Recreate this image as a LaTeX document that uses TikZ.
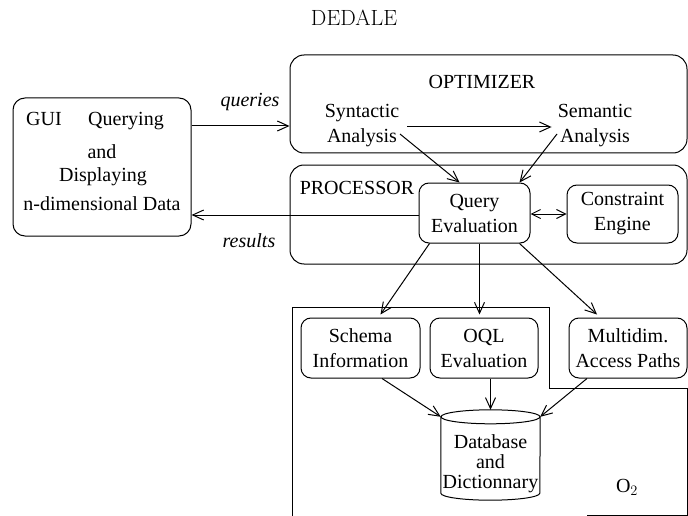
\documentclass[tikz,border=0pt]{standalone}
\usepackage{fontspec}
\newfontfamily\timesf{Liberation Serif}
\usetikzlibrary{arrows.meta,calc}
\tikzset{
  lbl/.style={font=\timesf\fontsize{20}{25}\selectfont, inner sep=0pt, align=center},
  box/.style={lbl, draw, rounded corners=10pt, line width=1pt},
  bigbox/.style={draw, rounded corners=14pt, line width=1pt, inner sep=0pt},
  conn/.style={line width=1pt, -{Straight Barb[length=11pt,width=10pt,line width=1pt]}},
  dconn/.style={line width=1pt, {Straight Barb[length=9pt,width=9pt,line width=1pt]}-{Straight Barb[length=9pt,width=9pt,line width=1pt]}},
  plain/.style={line width=1pt}
}
\begin{document}
\begin{tikzpicture}[x=1pt,y=-1pt]
\useasboundingbox (0,0) rectangle (688,516);

% title
\node[font=\rmfamily\fontsize{22}{24}\selectfont, inner sep=0pt] (title) at (354,18) {DEDALE};

% GUI
\node[bigbox, rounded corners=12pt, minimum width=178pt, minimum height=138pt] (gui) at (102,167) {};
\node[lbl] (guiL) at (44,119) {GUI};
\node[lbl] (g1) at (126,121) {Querying};
\node[lbl] (g2) at (102,152) {and};
\node[lbl] (g3) at (103,177) {Displaying};
\node[lbl] (g4) at (102,204) {n-dimensional Data};

% OPTIMIZER
\node[bigbox, minimum width=397pt, minimum height=98pt] (opt) at (488.5,104) {};
\node[lbl] (optL) at (482,82) {OPTIMIZER};
\node[lbl] (syn) at (362,126) {Syntactic\\Analysis};
\node[lbl] (sem) at (595,126) {Semantic\\Analysis};
\coordinate (synA) at (400,134);
\coordinate (semA) at (557,134);

% PROCESSOR
\node[bigbox, minimum width=397pt, minimum height=99pt] (proc) at (488.5,214.5) {};
\node[lbl] (procL) at (357,188) {PROCESSOR};
\node[box, minimum width=111pt, minimum height=60pt] (qe) at (474.5,213) {Query\\Evaluation};
\node[box, minimum width=111pt, minimum height=58pt] (ce) at (622.5,214) {Constraint\\Engine};

% O2 region
\draw[plain] (292,516) -- (292,307) -- (549,307) -- (549,388) -- (687,388) -- (687,515) -- (587,515);
\node[lbl] (o2) at (627,487) {O$_2$};

% lower boxes
\node[box, minimum width=119pt, minimum height=60pt] (sch) at (360.5,348) {Schema\\Information};
\node[box, minimum width=108pt, minimum height=60pt] (oql) at (484,348) {OQL\\Evaluation};
\node[box, minimum width=118pt, minimum height=60pt] (md) at (628,348) {Multidim.\\Access Paths};

% database cylinder
\node[minimum width=99pt, minimum height=90pt, inner sep=0pt] (db) at (490.5,455) {};
\node[lbl, font=\timesf\fontsize{20}{20}\selectfont] (dbT) at (490.5,464) {Database\\and\\Dictionnary};
\draw[plain] ([yshift=-7pt]db.north) ellipse[x radius=49.5pt, y radius=7pt];
\draw[plain] ([yshift=-7pt]db.north west) -- ([yshift=7pt]db.south west)
  arc[start angle=180, end angle=360, x radius=49.5pt, y radius=7pt]
  -- ([yshift=-7pt]db.north east);

% labels
\node[lbl, font=\timesf\itshape\fontsize{20}{25}\selectfont] (ql) at (250,102) {queries};
\node[lbl, font=\timesf\itshape\fontsize{20}{25}\selectfont] (rl) at (249,241) {results};

% connectors
\draw[conn] ([yshift=41pt]gui.east) -- ([yshift=41pt]gui.east -| opt.west);
\draw[conn] ([yshift=-2pt]qe.west) -- ([yshift=-2pt]qe.west -| gui.east);
\draw[conn] ([xshift=8pt,yshift=-1pt]syn.east) -- ([xshift=-6pt,yshift=-1pt]sem.west);
\draw[conn] (synA) -- ([xshift=-15pt]qe.north);
\draw[conn] (semA) -- ([xshift=45pt]qe.north);
\draw[dconn] ([yshift=-1pt]qe.east) -- ([yshift=-1pt]qe.east -| ce.west);
\draw[conn] ([xshift=-45pt]qe.south) -- ([xshift=20pt,yshift=3pt]sch.north);
\draw[conn] ([xshift=5pt]qe.south) -- ([xshift=5pt,yshift=3pt]qe.south |- oql.north);
\draw[conn] ([xshift=45pt]qe.south) -- ([xshift=-31pt,yshift=3pt]md.north);
\draw[conn] ([xshift=21.5pt]sch.south) -- ([yshift=-7pt]db.north west);
\draw[conn] (db.north |- oql.south) -- (db.north);
\draw[conn] ([xshift=-41pt]md.south) -- ([yshift=-7pt]db.north east);
\end{tikzpicture}
\end{document}
